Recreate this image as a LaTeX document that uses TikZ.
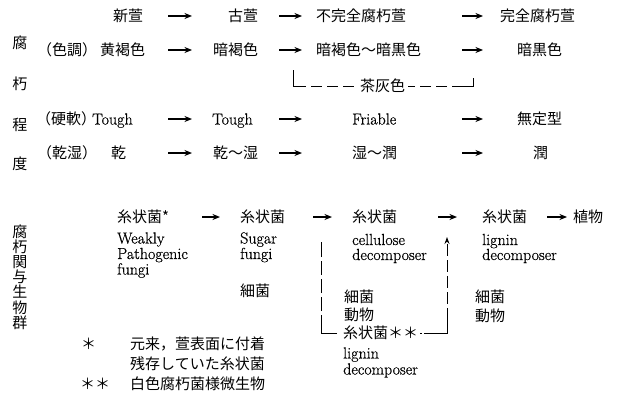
\documentclass[tikz,border=0pt]{standalone}
\usepackage{fontspec}
\newfontfamily\jp{Noto Sans CJK JP}
\newfontfamily\lat{Latin Modern Roman}[FakeBold=0.6]
\usetikzlibrary{arrows.meta}
\begin{document}
\begin{tikzpicture}[x=1pt,y=-1pt,
  jt/.style={inner sep=0pt,text height=12pt,text depth=1pt,anchor=west,font=\jp\fontsize{15}{15}\selectfont},
  lt/.style={inner sep=0pt,text height=12pt,text depth=1pt,anchor=west,font=\lat\fontsize{16}{16}\selectfont},
  vt/.style={inner sep=0pt,align=center,font=\jp\fontsize{15}{15.2}\selectfont},
  arr/.style={line width=1.2pt,-{Stealth[length=7.5pt,width=6pt]}},
  dl/.style={line width=0.9pt},
  brk/.style={dl,dash pattern=on 29pt off 5pt on 11pt off 5pt on 11pt off 5pt on 11pt off 5pt}
]
\useasboundingbox (0,0) rectangle (623,396);

% arrow columns
\coordinate (a1s) at (168,0); \coordinate (a1e) at (192,0);
\coordinate (a2s) at (279,0); \coordinate (a2e) at (302,0);
\coordinate (a3s) at (462,0); \coordinate (a3e) at (483,0);
\coordinate (b1s) at (202,0); \coordinate (b1e) at (220,0);
\coordinate (b2s) at (313,0); \coordinate (b2e) at (332,0);
\coordinate (b3s) at (438,0); \coordinate (b3e) at (457,0);
\coordinate (b4s) at (547,0); \coordinate (b4e) at (567,0);

% left vertical labels
\node[jt,anchor=center] (v1) at (20,43) {腐};
\node[jt,anchor=center] (v2) at (20,84) {朽};
\node[jt,anchor=center] (v3) at (20,125) {程};
\node[jt,anchor=center] (v4) at (20,164) {度};
\node[vt] (v5) at (20,277) {腐\\朽\\関\\与\\生\\物\\群};

% row 1
\node[jt] (n11) at (113,16) {新萱};
\node[jt] (n12) at (228,16) {古萱};
\node[jt] (n13) at (316,16) {不完全腐朽萱};
\node[jt] (n14) at (500,16) {完全腐朽萱};
% row 2
\node[jt] (l2) at (37,50) {（色調）};
\node[jt] (n21) at (100,50) {黄褐色};
\node[jt] (n22) at (213,50) {暗褐色};
\node[jt] (n23) at (316,50) {暗褐色～暗黒色};
\node[jt] (n24) at (517,50) {暗黒色};
% row 3
\node[jt] (cha) at (360,86) {茶灰色};
\coordinate (tl) at (293,70);
\coordinate (tr) at (473,78);
% row 4
\node[jt] (l4) at (36,119) {（硬軟）};
\node[lt] (n41) at (92,119) {Tough};
\node[lt] (n42) at (212,119) {Tough};
\node[lt] (n43) at (352,119) {Friable};
\node[jt] (n44) at (517,119) {無定型};
% row 5
\node[jt] (l5) at (37,153) {（乾湿）};
\node[jt] (n51) at (111,153) {乾};
\node[jt] (n52) at (213,153) {乾～湿};
\node[jt] (n53) at (352,153) {湿～潤};
\node[jt] (n54) at (533,153) {潤};

% arrows top
\foreach \a/\b/\c in {n11/n12/a1,n12/n13/a2,n13/n14/a3,
                      n21/n22/a1,n22/n23/a2,n23/n24/a3,
                      n41/n42/a1,n42/n43/a2,n43/n44/a3,
                      n51/n52/a1,n52/n53/a2,n53/n54/a3}
  \draw[arr] (\a.east -| \c s) -- (\b.west -| \c e);

% bracket 茶灰色
\draw[brk,shorten >=3pt] (tl) |- (cha.west);
\draw[brk,shorten >=3pt] (tr) |- (cha.east);

% lower part
\node[jt] (m1) at (117,217) {糸状菌*};
\node[jt] (m2) at (240,217) {糸状菌};
\node[jt] (m3) at (352,217) {糸状菌};
\node[jt] (m4) at (482,217) {糸状菌};
\node[jt] (m5) at (573,217) {植物};
\foreach \a/\b/\c in {m1/m2/b1,m2/m3/b2,m3/m4/b3,m4/m5/b4}
  \draw[arr] (\a.east -| \c s) -- (\b.west -| \c e);

\node[lt] (w1) at (117,238) {Weakly};
\node[lt] (w2) at (117,253.5) {Pathogenic};
\node[lt] (w3) at (117,269) {fungi};
\node[lt] (s1) at (240,238) {Sugar};
\node[lt] (s2) at (240,253.5) {fungi};
\node[jt] (s3) at (240,291) {細菌};
\node[lt] (c1) at (352,239.5) {cellulose};
\node[lt] (c2) at (352,254.5) {decomposer};
\node[lt] (g1) at (482,239.5) {lignin};
\node[lt] (g2) at (482,254.5) {decomposer};
\node[jt] (b1) at (344,297) {細菌};
\node[jt] (b2) at (344,315) {動物};
\node[jt] (fil2) at (343,333) {糸状菌＊＊};
\node[lt] (h1) at (343,353) {lignin};
\node[lt] (h2) at (343,369) {decomposer};
\node[jt] (r1) at (475,297) {細菌};
\node[jt] (r2) at (475,316) {動物};

% dashed loop
\coordinate (ltop) at (321,242);
\coordinate (rtop) at (447,237);
\draw[dl,dash pattern=on 34pt off 4pt on 14pt off 4pt on 14pt off 4pt on 14pt off 4pt,shorten <=6pt] (fil2.west) -| (ltop);
\draw[dl,dash pattern=on 2pt off 2pt on 48pt off 4pt on 12pt off 4pt on 12pt off 4pt on 12pt off 4pt on 12pt off 4pt,shorten <=2pt,-{Stealth[length=7pt,width=5pt]}] (fil2.east) -| (rtop);

% footnotes
\node[jt] (f1) at (81,344) {＊};
\node[jt] (f2) at (130,344) {元来，萱表面に付着};
\node[jt] (f3) at (130,364) {残存していた糸状菌};
\node[jt] (f4) at (80,384) {＊＊};
\node[jt] (f5) at (130,384) {白色腐朽菌様微生物};
\end{tikzpicture}
\end{document}
